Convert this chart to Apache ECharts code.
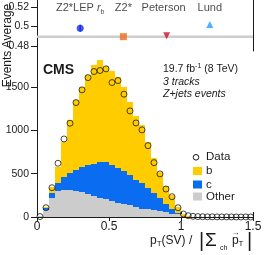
<!DOCTYPE html>
<html><head><meta charset="utf-8">
<script src="https://cdn.jsdelivr.net/npm/echarts@6.0.0/dist/echarts.min.js"></script>
<style>html,body{margin:0;padding:0;background:#fff}#c{width:266px;height:255px}</style>
</head><body><div id="c"></div>
<script>
// ---- data ----
const binEdges = [0, 0.0417, 0.0833, 0.125, 0.1667, 0.2083, 0.25, 0.2917, 0.3333, 0.375, 0.4167, 0.4583, 0.5,
  0.5417, 0.5833, 0.625, 0.6667, 0.7083, 0.75, 0.7917, 0.8333, 0.875, 0.9167, 0.9583, 1,
  1.0333, 1.0667, 1.1, 1.1333, 1.1667, 1.2, 1.2333, 1.2667, 1.3, 1.3333, 1.3667, 1.4, 1.4333, 1.4667, 1.5];
const dataCounts = [5, 107, 338, 620, 900, 1082, 1320, 1467, 1608, 1678, 1690, 1709, 1551, 1574, 1417, 1224, 1085, 1005, 823, 627,
  497, 323, 234, 107, 35, 15, 8, 5, 3, 2, 2, 1, 1, 1, 1, 0, 0, 1, 0];
const mcB = [2, 10, 77, 191, 394, 615, 807, 921, 1040, 1135, 1170, 1115, 1090, 1050, 970, 850, 740, 670, 535, 405,
  305, 210, 155, 75, 15, 4, 2, 1, 1, 0, 0, 0, 0, 0, 0, 0, 0, 0, 0];
const mcC = [2, 20, 57, 85, 154, 193, 243, 285, 329, 378, 421, 428, 415, 403, 380, 347, 315, 292, 248, 200,
  151, 98, 55, 16, 5, 1, 1, 0, 0, 0, 0, 0, 0, 0, 0, 0, 0, 0, 0];
const mcOther = [6, 80, 216, 304, 312, 312, 300, 289, 271, 237, 219, 202, 185, 167, 150, 133, 115, 98, 87, 75,
  64, 52, 40, 29, 10, 3, 1, 1, 0, 0, 0, 0, 0, 0, 0, 0, 0, 0, 0];
const xTickValues = [0, 0.5, 1, 1.5];
const yTickValues = [0, 500, 1000, 1500];
const models = ['Z2*LEP r_b', 'Z2*', 'Peterson', 'Lund'];
const modelAverage = [0.4982, 0.4895, 0.4904, 0.5021];
const modelAverageErr = [0.0035, 0, 0, 0];
const dataAverageBand = [0.4881, 0.4906];
const avgTickValues = [0.48, 0.5, 0.52];
const legendNames = ['Data', 'b', 'c', 'Other'];

// ---- style ----
const FONT = "'Liberation Sans', Arial, Helvetica, sans-serif";
const COL = { b: '#ffcc00', c: '#0a6cf0', other: '#cccccc', ink: '#1a1a1a' };
const modelStyle = [
  { symbol: 'circle', size: 7, color: '#1030e8', rotate: 0 },
  { symbol: 'rect', size: 7, color: '#f26a1b', rotate: 0 },
  { symbol: 'triangle', size: 7, color: '#c8102e', rotate: 180 },
  { symbol: 'triangle', size: 7, color: '#1ea0ff', rotate: 0 }
];

function stackRects(lowerArrs, arr) {
  return arr.map((v, i) => {
    const lo = lowerArrs.reduce((s, a) => s + a[i], 0);
    return [binEdges[i], binEdges[i + 1], lo, lo + v];
  });
}
function rectRender(color) {
  return function (params, api) {
    const p0 = api.coord([api.value(0), api.value(3)]);
    const p1 = api.coord([api.value(1), api.value(2)]);
    const x0 = Math.round(p0[0]), x1 = Math.round(p1[0]);
    const y0 = Math.round(p0[1]), y1 = Math.round(p1[1]);
    if (y1 - y0 <= 0) return null;
    return { type: 'rect', shape: { x: x0, y: y0, width: x1 - x0, height: y1 - y0 }, style: { fill: color } };
  };
}
const centers = dataCounts.map((v, i) => [(binEdges[i] + binEdges[i + 1]) / 2, v]);

const mctx = document.createElement('canvas').getContext('2d');
function tw(t, size, extra) { mctx.font = (extra || '') + ' ' + size + 'px ' + FONT; return mctx.measureText(t).width; }
function seq(x, y, parts) {
  const out = []; let cx = x;
  parts.forEach(p => {
    const extra = (p.italic ? 'italic ' : '') + (p.bold ? 'bold ' : '');
    out.push({ type: 'text', x: cx + (p.dx || 0), y: y + (p.dy || 0), silent: true,
      style: { text: p.t, font: extra + p.size + 'px ' + FONT, fill: COL.ink, verticalAlign: 'middle', align: 'left' } });
    cx += tw(p.t, p.size, extra) + (p.dx || 0) + (p.gap || 0);
  });
  return out;
}

const graphics = [];
graphics.push(...seq(43, 70, [{ t: 'CMS', size: 14, bold: true }]));
graphics.push(...seq(163, 69.5, [{ t: '19.7 fb', size: 10.5 }, { t: '-1', size: 7, dy: -3.5 }, { t: ' (8 TeV)', size: 10.5 }]));
graphics.push(...seq(163, 82, [{ t: '3 tracks', size: 10.5, italic: true }]));
graphics.push(...seq(163, 94.5, [{ t: 'Z+jets events', size: 10.5, italic: true }]));
graphics.push(...seq(150, 240.5, [
  { t: 'p', size: 12 }, { t: 'T', size: 8, dy: 3 }, { t: '(SV) / ', size: 12 }
]));
graphics.push({ type: 'text', x: 199, y: 241, silent: true, style: { text: '|', font: '20px ' + FONT, fill: COL.ink, verticalAlign: 'middle' } });
graphics.push({ type: 'text', x: 205, y: 241, silent: true, style: { text: '\u03A3', font: '19px ' + FONT, fill: COL.ink, verticalAlign: 'middle' } });
graphics.push({ type: 'text', x: 220, y: 248, silent: true, style: { text: 'ch', font: '7px ' + FONT, fill: COL.ink, verticalAlign: 'middle' } });
graphics.push({ type: 'text', x: 232, y: 240.5, silent: true, style: { text: 'p', font: '12px ' + FONT, fill: COL.ink, verticalAlign: 'middle' } });
graphics.push({ type: 'text', x: 231.5, y: 233, silent: true, style: { text: '\u2192', font: '8px ' + FONT, fill: COL.ink, verticalAlign: 'middle' } });
graphics.push({ type: 'text', x: 238.5, y: 244, silent: true, style: { text: 'T', font: '8px ' + FONT, fill: COL.ink, verticalAlign: 'middle' } });
graphics.push({ type: 'text', x: 247, y: 241, silent: true, style: { text: '|', font: '20px ' + FONT, fill: COL.ink, verticalAlign: 'middle' } });
graphics.push({ type: 'text', x: 8, y: 26, rotation: Math.PI / 2, silent: true,
  style: { text: 'Average', font: '12px ' + FONT, fill: COL.ink, align: 'center', verticalAlign: 'middle' } });
graphics.push({ type: 'text', x: 8, y: 69, rotation: Math.PI / 2, silent: true,
  style: { text: 'Events', font: '12px ' + FONT, fill: COL.ink, align: 'center', verticalAlign: 'middle' } });
const legendY = [157.3, 171, 184.5, 196.5];
const legendFill = [null, COL.b, COL.c, COL.other];
legendNames.forEach((name, i) => {
  if (i === 0) {
    graphics.push({ type: 'circle', shape: { cx: 196, cy: legendY[i], r: 2.8 }, silent: true, style: { fill: 'none', stroke: COL.ink, lineWidth: 1 } });
  } else {
    graphics.push({ type: 'rect', shape: { x: 193, y: legendY[i] - 4, width: 9, height: 8 }, silent: true, style: { fill: legendFill[i] } });
  }
  graphics.push({ type: 'text', x: 206, y: legendY[i], silent: true,
    style: { text: name, font: '11.5px ' + FONT, fill: COL.ink, verticalAlign: 'middle' } });
});

const axisLine = { show: true, lineStyle: { color: COL.ink, width: 1 } };
const labelStyle = { color: COL.ink, fontFamily: FONT, hideOverlap: false, showMinLabel: true, showMaxLabel: true };
const noLine = { show: false };

function labelAxis(grid, min, max, v, fmt) {
  return { gridIndex: grid, type: 'value', min, max, position: 'left', axisLine: noLine, splitLine: { show: false },
    axisTick: { show: false },
    axisLabel: { customValues: [v], fontSize: 10.5, margin: 8, formatter: fmt, ...labelStyle } };
}
const avgFmt = v => String(+(+v).toFixed(2));
const AVG_MIN = 0.4747, AVG_MAX = 0.5274, EV_MAX = 1915;

const yAxes = [
  { gridIndex: 0, type: 'value', min: AVG_MIN, max: AVG_MAX, position: 'left', axisLine,
    splitLine: { show: false },
    axisTick: { show: true, inside: false, length: 6, customValues: avgTickValues, lineStyle: { color: COL.ink } },
    axisLabel: { show: false } },
  { gridIndex: 0, type: 'value', min: AVG_MIN, max: AVG_MAX, position: 'right', axisLine,
    splitLine: { show: false }, axisTick: { show: false }, axisLabel: { show: false } },
  { gridIndex: 1, type: 'value', min: 0, max: EV_MAX, position: 'left', axisLine,
    splitLine: { show: false },
    axisTick: { show: true, inside: false, length: 5, customValues: yTickValues, lineStyle: { color: COL.ink } },
    axisLabel: { show: false } },
  { gridIndex: 1, type: 'value', min: 0, max: EV_MAX, position: 'right', axisLine,
    splitLine: { show: false },
    axisTick: { show: true, inside: true, length: 6, customValues: yTickValues, lineStyle: { color: COL.ink } },
    axisLabel: { show: false } }
];
yTickValues.forEach(v => yAxes.push(labelAxis(1, 0, EV_MAX, v, x => String(x))));

const option = {
  animation: false,
  backgroundColor: '#fff',
  grid: [
    { left: 37, width: 216, top: 0, height: 51, outerBoundsMode: 'none', containLabel: false },
    { left: 37, width: 216, top: 51, height: 166, outerBoundsMode: 'none', containLabel: false }
  ],
  xAxis: [
    { gridIndex: 0, type: 'value', min: 0, max: 5, show: false },
    { gridIndex: 1, type: 'value', min: 0, max: 1.5, position: 'bottom', axisLine,
      splitLine: { show: false },
      axisTick: { inside: true, length: 5, customValues: xTickValues, lineStyle: { color: COL.ink } },
      axisLabel: { customValues: xTickValues, fontSize: 12, margin: 4, formatter: v => String(v), ...labelStyle } },
    { gridIndex: 1, type: 'value', min: 0, max: 1.5, position: 'top', axisLine,
      splitLine: { show: false },
      axisTick: { inside: true, length: 4, customValues: xTickValues, lineStyle: { color: COL.ink } },
      axisLabel: { show: false } }
  ],
  yAxis: yAxes,
  series: [
    { name: 'Other', type: 'custom', xAxisIndex: 1, yAxisIndex: 2, renderItem: rectRender(COL.other),
      data: stackRects([], mcOther), z: 1 },
    { name: 'c', type: 'custom', xAxisIndex: 1, yAxisIndex: 2, renderItem: rectRender(COL.c),
      data: stackRects([mcOther], mcC), z: 1 },
    { name: 'b', type: 'custom', xAxisIndex: 1, yAxisIndex: 2, renderItem: rectRender(COL.b),
      data: stackRects([mcOther, mcC], mcB), z: 1 },
    { name: 'Data', type: 'scatter', xAxisIndex: 1, yAxisIndex: 2, data: centers, symbol: 'circle', symbolSize: 6,
      itemStyle: { color: 'rgba(0,0,0,0)', borderColor: COL.ink, borderWidth: 1 }, z: 5 },
    { name: 'band', type: 'scatter', xAxisIndex: 0, yAxisIndex: 0, data: [],
      markArea: { silent: true, itemStyle: { color: '#cdcdcd' },
        data: [[{ yAxis: dataAverageBand[0] }, { yAxis: dataAverageBand[1] }]] } },
    { name: 'err', type: 'custom', xAxisIndex: 0, yAxisIndex: 0,
      data: modelAverage.map((v, i) => [i + 1, v - modelAverageErr[i], v + modelAverageErr[i]]),
      renderItem: function (params, api) {
        const a = api.coord([api.value(0), api.value(1)]), b = api.coord([api.value(0), api.value(2)]);
        return { type: 'line', shape: { x1: a[0], y1: a[1], x2: b[0], y2: b[1] },
          style: { stroke: modelStyle[params.dataIndex].color, lineWidth: 1.5 } };
      }, z: 3 },
    { name: 'models', type: 'scatter', xAxisIndex: 0, yAxisIndex: 0, z: 4,
      data: modelAverage.map((v, i) => ({ value: [i + 1, v], symbol: modelStyle[i].symbol, symbolSize: modelStyle[i].size,
        symbolRotate: modelStyle[i].rotate, itemStyle: { color: modelStyle[i].color } })) },
    { name: 'modelLabels', type: 'scatter', xAxisIndex: 0, yAxisIndex: 0, symbolSize: 0, z: 4,
      data: models.map((m, i) => ({ value: [i + 1, 0.519], name: m, label: { offset: [i === 2 ? -3 : 0, 0] } })),
      label: { show: true, position: 'inside', color: COL.ink, fontFamily: FONT, fontSize: 11,
        formatter: p => p.name.indexOf('_') >= 0 ? p.name.split(' ')[0] + ' {i|r}{s|b}' : p.name,
        rich: { i: { fontStyle: 'italic', fontSize: 11, fontFamily: FONT, color: COL.ink },
                s: { fontSize: 7, fontFamily: FONT, color: COL.ink, padding: [7, 0, 0, 0] } } } }
  ],
  graphic: graphics
};
const chart = echarts.init(document.getElementById('c'), null, { renderer: 'canvas' });
chart.setOption(option);
// upper-panel tick labels placed through the axis scale
avgTickValues.forEach(v => {
  const py = chart.convertToPixel({ yAxisIndex: 0 }, v);
  graphics.push({ type: 'text', x: 29, y: py, silent: true,
    style: { text: avgFmt(v), font: '10.5px ' + FONT, fill: COL.ink, align: 'right', verticalAlign: 'middle' } });
});
option.graphic = graphics;
chart.setOption(option, true);
</script></body></html>
